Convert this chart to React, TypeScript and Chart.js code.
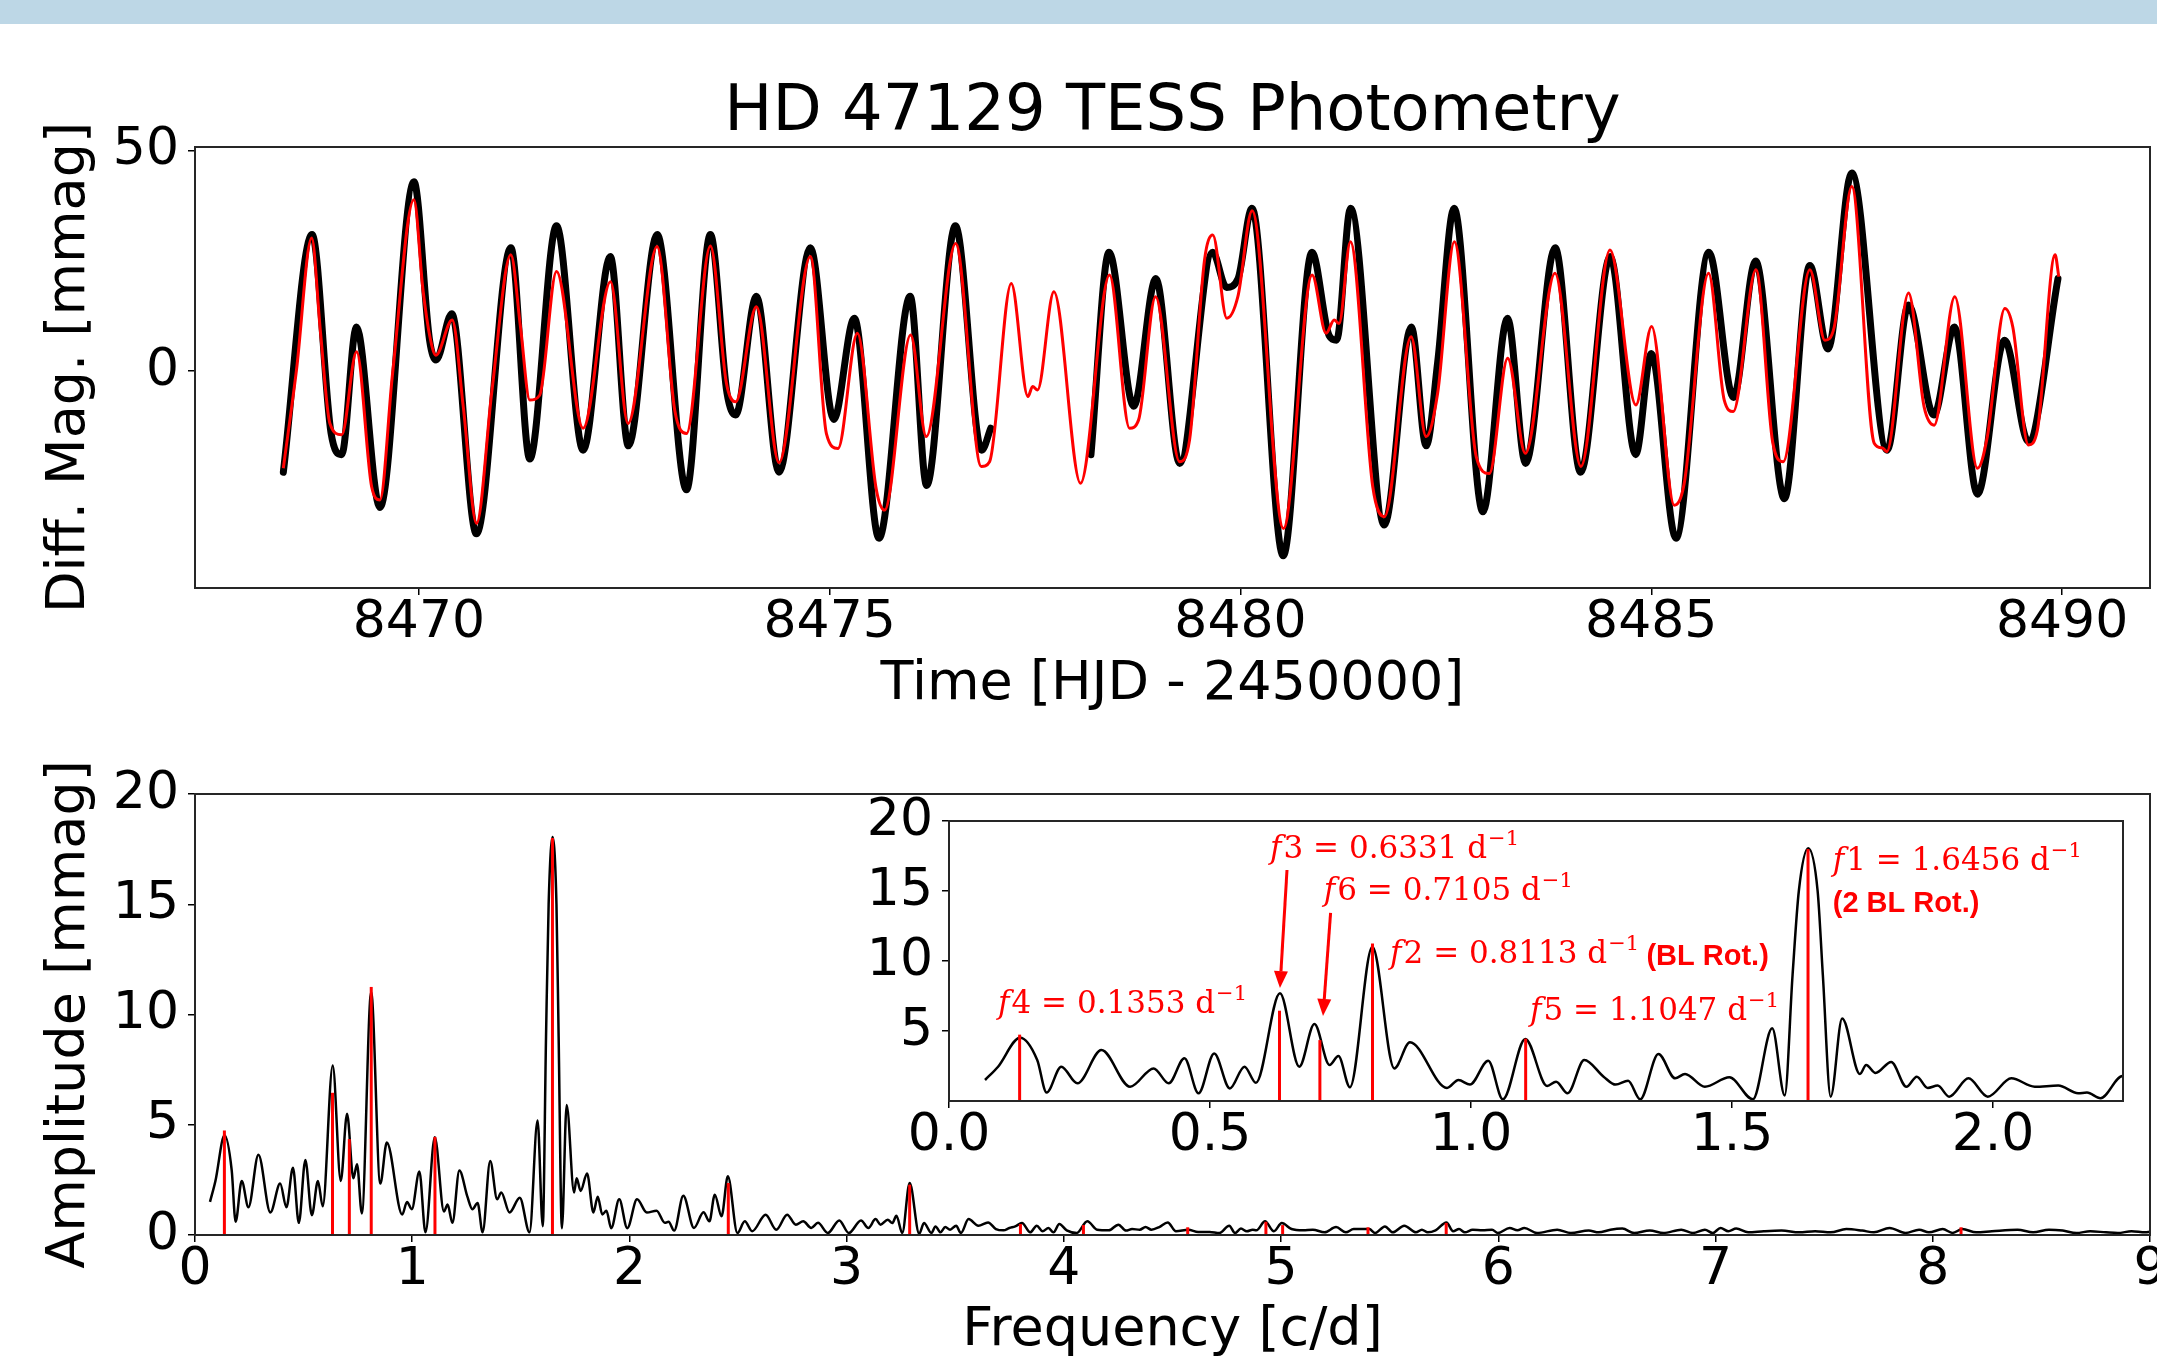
import React, { useEffect, useRef } from "react";
import { Chart, registerables } from "chart.js";

Chart.register(...registerables);
Chart.defaults.font.family = "DejaVu Sans";

// ---------------- light curve: model (red) ----------------
const modelTime = [
  8468.35, 8468.51, 8468.695, 8468.8, 8468.917, 8469.06, 8469.242, 8469.425, 8469.526, 8469.68,
  8469.939, 8470.05, 8470.134, 8470.207, 8470.405, 8470.54, 8470.702, 8470.89, 8471.119, 8471.236,
  8471.35, 8471.47, 8471.675, 8471.999, 8472.332, 8472.546, 8472.9, 8473.114, 8473.257, 8473.548,
  8473.743, 8473.856, 8474.108, 8474.383, 8474.765, 8474.96, 8475.101, 8475.337, 8475.568, 8475.669,
  8475.985, 8476.176, 8476.533, 8476.845, 8476.946, 8477.21, 8477.413, 8477.47, 8477.53, 8477.729,
  8478.053, 8478.406, 8478.65, 8478.76, 8478.966, 8479.258, 8479.38, 8479.562, 8479.663, 8479.834,
  8479.968, 8480.142, 8480.523, 8480.872, 8481.042, 8481.14, 8481.2, 8481.338, 8481.61, 8481.752,
  8482.077, 8482.259, 8482.4, 8482.603, 8482.87, 8483.029, 8483.252, 8483.467, 8483.828, 8484.144,
  8484.497, 8484.813, 8485.004, 8485.28, 8485.4, 8485.697, 8485.888, 8485.998, 8486.274, 8486.477,
  8486.606, 8486.93, 8487.113, 8487.227, 8487.441, 8487.713, 8487.814, 8487.867, 8488.131, 8488.32,
  8488.443, 8488.694, 8488.97, 8489.09, 8489.303, 8489.4, 8489.59, 8489.7, 8489.915, 8489.96,
];
const modelMag = [
  -22.1, 0.2, 30.2, 9.3, -11.9, -14.5, 4.4, -26.3, -29.3, -0.5,
  38.9, 18.4, 7.8, 3.6, 11.6, -8.1, -34.6, -4.3, 26.4, 10.1,
  -6.6, -5.5, 22.6, -13.0, 20.3, -11.9, 28.3, -8.9, -14.2, 28.4,
  -2.8, -7.0, 14.6, -20.8, 26.0, -14.2, -17.6, 8.6, -27.0, -31.6,
  8.2, -14.9, 29.0, -21.7, -20.6, 19.9, -5.8, -3.5, -4.3, 18.0,
  -25.5, 21.8, -13.0, -11.1, 16.9, -20.6, -15.7, 25.2, 30.9, 12.0,
  16.9, 36.4, -35.8, 21.8, 8.6, 11.6, 10.8, 29.4, -26.3, -33.1,
  7.8, -14.9, -5.0, 29.4, -19.5, -23.3, 2.9, -18.7, 22.2, -21.7,
  27.5, -7.7, 10.1, -30.5, -25.6, 22.2, -6.6, -9.2, 23.0, -16.1,
  -20.6, 23.0, 7.0, 10.0, 41.9, -16.4, -17.5, -18.3, 17.7, -8.1,
  -12.3, 16.9, -22.1, -14.9, 14.2, 10.0, -16.8, -13.4, 26.4, 21.4,
];

// ---------------- light curve: TESS data (black) ----------------
const obsTime = [
  8468.35, 8468.7, 8468.93, 8469.06, 8469.24, 8469.526, 8469.94, 8470.13, 8470.21, 8470.4,
  8470.7, 8471.12, 8471.35, 8471.675, 8471.999, 8472.33, 8472.55, 8472.9, 8473.257, 8473.548,
  8473.75, 8473.856, 8474.108, 8474.383, 8474.765, 8475.05, 8475.3, 8475.6, 8475.98, 8476.18,
  8476.53, 8476.85, 8476.96, 8477.5, 8478.18, 8478.4, 8478.7, 8478.97, 8479.26, 8479.66,
  8479.83, 8479.97, 8480.14, 8480.52, 8480.87, 8481.08, 8481.17, 8481.34, 8481.75, 8482.08,
  8482.26, 8482.4, 8482.6, 8482.95, 8483.25, 8483.47, 8483.83, 8484.14, 8484.5, 8484.81,
  8485.0, 8485.3, 8485.7, 8486.0, 8486.27, 8486.62, 8486.93, 8487.15, 8487.44, 8487.87,
  8488.13, 8488.44, 8488.69, 8488.97, 8489.3, 8489.59, 8489.95,
];
const obsMag = [
  -23, 31, -14, -19, 10, -31, 43, 7, 2.5, 13,
  -37, 28, -20, 33, -18, 26, -17, 31, -27, 31,
  -5, -10, 17, -23, 28, -11, 12, -38, 17, -26,
  33, -18, -13, null, -19, 27, -8, 21, -21, 27,
  19, 21, 37, -42, 27, 8, 7, 37, -35, 10,
  -17, 2, 37, -32, 12, -21, 28, -23, 26, -19,
  4, -38, 27, -6, 25, -29, 24, 5, 45, -18,
  15, -10, 10, -28, 7, -16, 21,
];

// ---------------- amplitude spectrum ----------------
const freq = [
  0.069, 0.094, 0.136, 0.169, 0.187, 0.215, 0.246, 0.292, 0.347, 0.392,
  0.421, 0.451, 0.478, 0.508, 0.538, 0.566, 0.588, 0.634, 0.671, 0.7,
  0.729, 0.746, 0.768, 0.811, 0.853, 0.883, 0.954, 0.976, 0.998, 1.033,
  1.061, 1.104, 1.146, 1.163, 1.185, 1.217, 1.254, 1.277, 1.301, 1.324,
  1.359, 1.391, 1.41, 1.448, 1.495, 1.54, 1.577, 1.601, 1.616, 1.628,
  1.646, 1.664, 1.674, 1.689, 1.711, 1.745, 1.757, 1.775, 1.805, 1.834,
  1.854, 1.875, 1.894, 1.916, 1.953, 1.99, 2.035, 2.08, 2.125, 2.163,
  2.18, 2.206, 2.248, 2.297, 2.341, 2.368, 2.393, 2.424, 2.453, 2.497,
  2.531, 2.565, 2.627, 2.676, 2.726, 2.766, 2.8, 2.837, 2.868, 2.913,
  2.966, 3.01, 3.066, 3.1, 3.133, 3.156, 3.189, 3.21, 3.229, 3.256,
  3.29, 3.334, 3.356, 3.39, 3.409, 3.432, 3.454, 3.476, 3.504, 3.526,
  3.561, 3.606, 3.651, 3.687, 3.722, 3.749, 3.776, 3.807, 3.845, 3.875,
  3.902, 3.929, 3.952, 3.979, 4.013, 4.059, 4.108, 4.153, 4.206, 4.251,
  4.286, 4.314, 4.349, 4.376, 4.403, 4.439, 4.478, 4.516, 4.573, 4.618,
  4.671, 4.716, 4.761, 4.788, 4.815, 4.842, 4.869, 4.886, 4.926, 4.967,
  5.003, 5.048, 5.101, 5.146, 5.2, 5.253, 5.298, 5.334, 5.406, 5.433,
  5.478, 5.514, 5.567, 5.621, 5.648, 5.675, 5.711, 5.761, 5.792, 5.819,
  5.846, 5.882, 5.927, 5.971, 5.998, 6.052, 6.088, 6.12, 6.178, 6.271,
  6.334, 6.416, 6.462, 6.516, 6.571, 6.625, 6.697, 6.76, 6.842, 6.896,
  6.951, 6.987, 7.023, 7.059, 7.095, 7.15, 7.222, 7.304, 7.385, 7.458,
  7.53, 7.602, 7.675, 7.729, 7.801, 7.874, 7.937, 7.982, 8.046, 8.091,
  8.136, 8.2, 8.272, 8.39, 8.462, 8.535, 8.598, 8.661, 8.725, 8.797,
  8.852, 8.915, 8.978, 9.0,
];
const amp = [
  1.5, 2.45, 4.52, 2.93, 0.6, 2.45, 1.26, 3.64, 1.02, 2.33,
  1.26, 3.05, 0.55, 3.4, 0.9, 2.45, 1.3, 7.69, 2.45, 5.5,
  2.57, 3.21, 0.98, 11.02, 2.33, 4.19, 0.93, 1.5, 1.17, 2.88,
  0.12, 4.43, 1.07, 1.38, 0.55, 2.93, 1.74, 1.17, 1.45, 0.12,
  3.36, 1.62, 1.93, 1.02, 1.69, 0.12, 5.19, 0.4, 9.0, 15.0,
  18.05, 15.0, 9.0, 0.31, 5.9, 1.93, 2.57, 2.0, 2.79, 1.02,
  1.74, 0.93, 1.1, 0.31, 1.62, 0.31, 1.62, 1.02, 1.1, 0.55,
  0.6, 0.2, 1.78, 0.32, 1.03, 0.62, 1.83, 0.85, 2.66, 0.09,
  0.62, 0.17, 0.92, 0.24, 0.92, 0.47, 0.62, 0.32, 0.55, 0.09,
  0.66, 0.09, 0.66, 0.32, 0.72, 0.47, 0.69, 0.54, 0.87, 0.09,
  2.36, 0.06, 0.54, 0.09, 0.39, 0.12, 0.36, 0.24, 0.42, 0.09,
  0.72, 0.42, 0.57, 0.27, 0.21, 0.32, 0.39, 0.54, 0.12, 0.42,
  0.17, 0.32, 0.12, 0.5, 0.21, 0.09, 0.62, 0.24, 0.21, 0.47,
  0.2, 0.27, 0.24, 0.36, 0.24, 0.36, 0.57, 0.17, 0.24, 0.14,
  0.14, 0.09, 0.42, 0.09, 0.29, 0.17, 0.24, 0.21, 0.62, 0.17,
  0.54, 0.27, 0.21, 0.24, 0.12, 0.36, 0.12, 0.27, 0.27, 0.09,
  0.39, 0.12, 0.42, 0.12, 0.24, 0.12, 0.21, 0.57, 0.17, 0.27,
  0.12, 0.24, 0.21, 0.24, 0.09, 0.32, 0.21, 0.32, 0.09, 0.24,
  0.09, 0.2, 0.12, 0.24, 0.29, 0.09, 0.2, 0.09, 0.24, 0.09,
  0.24, 0.09, 0.32, 0.17, 0.29, 0.12, 0.17, 0.2, 0.12, 0.17,
  0.12, 0.27, 0.2, 0.12, 0.32, 0.09, 0.24, 0.12, 0.27, 0.09,
  0.27, 0.12, 0.17, 0.24, 0.12, 0.24, 0.2, 0.09, 0.17, 0.12,
  0.09, 0.17, 0.12, 0.15,
];

// ---------------- identified frequencies (red) ----------------
const peakFreq = [0.1353, 0.6331, 0.7105, 0.8113, 1.1047, 1.6456, 2.455, 3.29, 3.8, 4.09, 4.57, 4.93, 5.007, 5.4, 5.76, 8.13];
const peakAmp = [4.74, 6.45, 4.35, 11.25, 4.45, 18.0, 2.36, 2.28, 0.5, 0.45, 0.35, 0.6, 0.45, 0.35, 0.55, 0.35];

// ---------------- ticks ----------------
const timeTicks = [8470, 8475, 8480, 8485, 8490];
const magTicks = [0, 50];
const freqTicks = [0, 1, 2, 3, 4, 5, 6, 7, 8, 9];
const ampTicks = [0, 5, 10, 15, 20];
const insetFreqTicks = [0, 0.5, 1.0, 1.5, 2.0];
const insetAmpTicks = [5, 10, 15, 20];

// ---------------- inset annotation texts ----------------
const freqNames = ["4", "3", "6", "2", "5", "1"];
const freqValues = ["0.1353", "0.6331", "0.7105", "0.8113", "1.1047", "1.6456"];
const rotNotes = ["(BL Rot.)", "(2 BL Rot.)"];

// annotation anchors (data units of the inset)
const LABEL_POS = [[0.094, 6.29], [0.615, 17.36], [0.718, 14.36], [0.845, 9.86], [1.113, 5.79], [1.693, 16.5]];
const NOTE_POS = [[1.336, 9.71], [1.693, 13.5]];
const ARROWS = [
  [[0.6475, 16.5], [0.634, 8.07]],
  [[0.731, 13.43], [0.7165, 6.07]],
];

const RED = "#ff0000";
const TICK_FONT = { family: "DejaVu Sans", size: 52, lineHeight: 1 };
const LABEL_FONT = { family: "DejaVu Sans", size: 54, lineHeight: 1 };

const framePlugin = {
  id: "frame",
  afterDraw(chart: any) {
    const { ctx, chartArea: a } = chart;
    ctx.save();
    ctx.strokeStyle = "#262626";
    ctx.lineWidth = 2;
    ctx.strokeRect(a.left, a.top, a.right - a.left, a.bottom - a.top);
    ctx.restore();
  },
};

const whiteAreaPlugin = {
  id: "whiteArea",
  beforeDraw(chart: any) {
    const { ctx, chartArea: a } = chart;
    ctx.save();
    ctx.fillStyle = "#ffffff";
    ctx.fillRect(a.left, a.top, a.right - a.left, a.bottom - a.top);
    ctx.restore();
  },
};

const insetNotesPlugin = {
  id: "insetNotes",
  afterDatasetsDraw(chart: any) {
    const { ctx } = chart;
    const xs = chart.scales.x;
    const ys = chart.scales.y;
    const px = (p: number[]) => [xs.getPixelForValue(p[0]), ys.getPixelForValue(p[1])];
    ctx.save();
    ctx.fillStyle = RED;
    ctx.strokeStyle = RED;
    ARROWS.forEach(([from, to]) => {
      const [x0, y0] = px(from);
      const [x1, y1] = px(to);
      const ang = Math.atan2(y1 - y0, x1 - x0);
      const head = 17;
      const hw = 7;
      const bx = x1 - head * Math.cos(ang);
      const by = y1 - head * Math.sin(ang);
      ctx.lineWidth = 3;
      ctx.beginPath();
      ctx.moveTo(x0, y0);
      ctx.lineTo(bx, by);
      ctx.stroke();
      ctx.beginPath();
      ctx.moveTo(x1, y1);
      ctx.lineTo(bx + hw * Math.sin(ang), by - hw * Math.cos(ang));
      ctx.lineTo(bx - hw * Math.sin(ang), by + hw * Math.cos(ang));
      ctx.closePath();
      ctx.fill();
    });
    ctx.textBaseline = "alphabetic";
    ctx.textAlign = "left";
    freqNames.forEach((n, i) => {
      const [x, y] = px(LABEL_POS[i]);
      ctx.font = 'italic 31px "DejaVu Serif"';
      ctx.fillText("f", x, y);
      let w = ctx.measureText("f").width + 2;
      ctx.font = '31px "DejaVu Serif"';
      const s = n + " = " + freqValues[i] + " d";
      ctx.fillText(s, x + w, y);
      w += ctx.measureText(s).width;
      ctx.font = '21px "DejaVu Serif"';
      ctx.fillText("\u22121", x + w + 1, y - 13);
    });
    ctx.font = 'bold 29px "Liberation Sans"';
    rotNotes.forEach((t, i) => {
      const [x, y] = px(NOTE_POS[i]);
      ctx.fillText(t, x, y);
    });
    ctx.restore();
  },
};

function makeScale(o: any) {
  return {
    type: "linear",
    min: o.min,
    max: o.max,
    afterBuildTicks: (s: any) => {
      s.ticks = o.ticks.map((v: number) => ({ value: v }));
    },
    afterFit: (s: any) => {
      if (o.isY) {
        s.width = o.size;
      } else {
        s.height = o.size;
        s.paddingLeft = 0;
        s.paddingRight = 0;
      }
    },
    ticks: {
      color: "#000",
      font: TICK_FONT,
      padding: o.isY ? 9 : 2,
      maxRotation: 0,
      autoSkip: false,
      callback: o.fmt || ((v: number) => String(v)),
    },
    grid: { drawOnChartArea: false, drawTicks: true, tickLength: 7, lineWidth: 1.5, color: "#000" },
    border: { display: false },
    title: o.title
      ? { display: true, text: o.title, color: "#000", font: LABEL_FONT, padding: o.titlePad }
      : { display: false },
  };
}

const baseOptions = {
  responsive: false,
  animation: false,
  devicePixelRatio: 1,
  events: [],
};

export default function App() {
  const topRef = useRef<HTMLCanvasElement>(null);
  const mainRef = useRef<HTMLCanvasElement>(null);
  const insetRef = useRef<HTMLCanvasElement>(null);

  useEffect(() => {
    const charts: Chart[] = [];

    const spectrum = freq.map((f, i) => ({ x: f, y: amp[i] }));
    const redLines = () =>
      peakFreq.map((f, i) => ({
        label: "f" + i,
        data: [{ x: f, y: 0 }, { x: f, y: peakAmp[i] }],
        borderColor: RED,
        borderWidth: 3,
        pointRadius: 0,
        order: 0,
      }));

    // ---------- light curve ----------
    charts.push(
      new Chart(topRef.current as HTMLCanvasElement, {
        type: "line",
        data: {
          datasets: [
            {
              label: "Model",
              data: modelTime.map((t, i) => ({ x: t, y: modelMag[i] })),
              borderColor: RED,
              borderWidth: 3,
              pointRadius: 0,
              cubicInterpolationMode: "monotone",
              order: 0,
            },
            {
              label: "TESS",
              data: obsTime.map((t, i) => ({ x: t, y: obsMag[i] })),
              borderColor: "#000",
              borderWidth: 7,
              borderCapStyle: "round",
              borderJoinStyle: "round",
              pointRadius: 0,
              cubicInterpolationMode: "monotone",
              spanGaps: false,
              order: 1,
            },
          ],
        },
        options: {
          ...baseOptions,
          layout: { padding: { top: 81, left: 0, right: 7, bottom: 0 } },
          plugins: {
            legend: { display: false },
            tooltip: { enabled: false },
            title: {
              display: true,
              text: "HD 47129 TESS Photometry",
              fullSize: false,
              color: "#000",
              font: { family: "DejaVu Sans", size: 64, weight: "normal", lineHeight: 1 },
              padding: { top: 0, bottom: 2 },
            },
          },
          scales: {
            x: makeScale({ min: 8467.275, max: 8491.07, ticks: timeTicks, size: 132, title: "Time [HJD - 2450000]", titlePad: { top: 0, bottom: 8 } }),
            y: makeScale({ min: -49.3, max: 50.9, ticks: magTicks, size: 195, isY: true, title: "Diff. Mag. [mmag]", titlePad: { top: 43, bottom: 0 } }),
          },
        } as any,
        plugins: [framePlugin],
      } as any)
    );

    // ---------- amplitude spectrum ----------
    charts.push(
      new Chart(mainRef.current as HTMLCanvasElement, {
        type: "line",
        data: {
          datasets: [
            ...redLines(),
            {
              label: "Amplitude",
              data: spectrum,
              borderColor: "#000",
              borderWidth: 2.5,
              pointRadius: 0,
              cubicInterpolationMode: "monotone",
              order: 1,
            },
          ],
        },
        options: {
          ...baseOptions,
          layout: { padding: { top: 74, left: 0, right: 7, bottom: 0 } },
          plugins: { legend: { display: false }, tooltip: { enabled: false } },
          scales: {
            x: makeScale({ min: 0, max: 9, ticks: freqTicks, size: 125, title: "Frequency [c/d]", titlePad: { top: 0, bottom: 2 } }),
            y: makeScale({ min: 0, max: 20, ticks: ampTicks, size: 195, isY: true, title: "Amplitude [mmag]", titlePad: { top: 43, bottom: 0 } }),
          },
        } as any,
        plugins: [framePlugin],
      } as any)
    );

    // ---------- inset ----------
    charts.push(
      new Chart(insetRef.current as HTMLCanvasElement, {
        type: "line",
        data: {
          datasets: [
            ...redLines(),
            {
              label: "Amplitude",
              data: spectrum,
              borderColor: "#000",
              borderWidth: 2.5,
              pointRadius: 0,
              cubicInterpolationMode: "monotone",
              order: 1,
            },
          ],
        },
        options: {
          ...baseOptions,
          layout: { padding: { top: 61, left: 0, right: 34, bottom: 0 } },
          plugins: { legend: { display: false }, tooltip: { enabled: false } },
          scales: {
            x: makeScale({ min: 0, max: 2.249, ticks: insetFreqTicks, size: 59, fmt: (v: number) => v.toFixed(1) }),
            y: makeScale({ min: 0, max: 20, ticks: insetAmpTicks, size: 89, isY: true }),
          },
        } as any,
        plugins: [whiteAreaPlugin, framePlugin, insetNotesPlugin],
      } as any)
    );

    return () => charts.forEach((c) => c.destroy());
  }, []);

  return (
    <div style={{ position: "absolute", left: 0, top: 0, width: 2157, height: 1360, overflow: "hidden", background: "#fff" }}>
      <div style={{ position: "absolute", left: 0, top: 0, width: 2157, height: 24, background: "#BDD7E6" }} />
      <canvas ref={topRef} width={2157} height={720} style={{ position: "absolute", left: 0, top: 0 }} />
      <canvas ref={mainRef} width={2157} height={640} style={{ position: "absolute", left: 0, top: 720 }} />
      <canvas ref={insetRef} width={1297} height={400} style={{ position: "absolute", left: 860, top: 760 }} />
    </div>
  );
}
